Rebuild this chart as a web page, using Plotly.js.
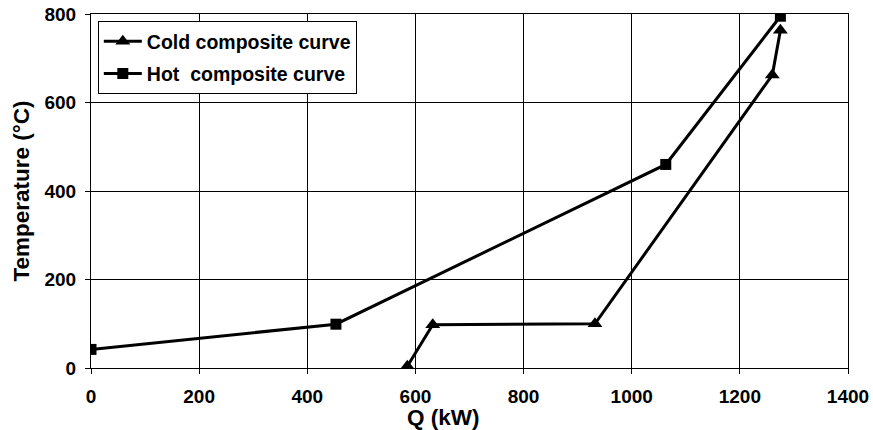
<!DOCTYPE html>
<html>
<head>
<meta charset="utf-8">
<script src="https://cdn.plot.ly/plotly-3.0.1.min.js"></script>
<style>html,body{margin:0;padding:0;background:#fff;}#chart{width:873px;height:430px;}</style>
</head>
<body>
<div id="chart"></div>
<script>
const coldQ = [585, 632, 932, 1260, 1275];
const coldT = [4, 98, 100, 662, 763];
const hotQ = [0, 453, 1063, 1275];
const hotT = [42, 99, 460, 795];
const coldName = "Cold composite curve";
const hotName = "Hot\u00a0 composite curve";
const xTitle = "Q (kW)";
const yTitle = "Temperature (°C)";

const fam = "Liberation Sans, Arial, sans-serif";
const tickFont = {family: fam, size: 19, color: "#000", weight: "bold"};
const legFont = {family: fam, size: 19.5, color: "#000", weight: "bold"};
const titleFont = {family: fam, size: 22.5, color: "#000", weight: "bold"};

const traces = [
  {x: coldQ, y: coldT, name: coldName, mode: "lines+markers", legendgroup: "c",
   line: {color: "#000", width: 3}, marker: {symbol: "triangle-up", size: 13, color: "#000"}},
  {x: hotQ, y: hotT, name: hotName, mode: "lines+markers", legendgroup: "h",
   line: {color: "#000", width: 3}, marker: {symbol: "square", size: 11, color: "#000"}}
];

const axisCommon = {
  showline: true, linecolor: "#000", linewidth: 1, mirror: true,
  showgrid: true, gridcolor: "#000", gridwidth: 1,
  ticks: "outside", ticklen: 5, tickcolor: "#000", tickwidth: 1,
  zeroline: false, tickfont: tickFont
};

const layout = {
  width: 873, height: 430,
  margin: {l: 91, r: 25, t: 14, b: 62},
  paper_bgcolor: "#fff", plot_bgcolor: "#fff",
  font: {family: fam, size: 19, color: "#000"},
  showlegend: true,
  legend: {
    x: 0.009, y: 0.98, xanchor: "left", yanchor: "top",
    bgcolor: "#fff", bordercolor: "#000", borderwidth: 1,
    font: legFont, itemwidth: 38,
    traceorder: "grouped", tracegroupgap: 4
  },
  xaxis: Object.assign({}, axisCommon, {range: [0, 1400], dtick: 200, tick0: 0, ticklabelstandoff: 6}),
  yaxis: Object.assign({}, axisCommon, {range: [0, 800], dtick: 200, tick0: 0, ticklabelstandoff: 5,
    title: {text: yTitle, font: titleFont, standoff: 8}}),
  annotations: [
    {text: xTitle, xref: "paper", yref: "paper", x: 0.465, y: 0, yshift: -49, showarrow: false,
     xanchor: "center", yanchor: "middle", font: titleFont}
  ]
};

Plotly.newPlot("chart", traces, layout, {displayModeBar: false, staticPlot: true});
</script>
</body>
</html>
